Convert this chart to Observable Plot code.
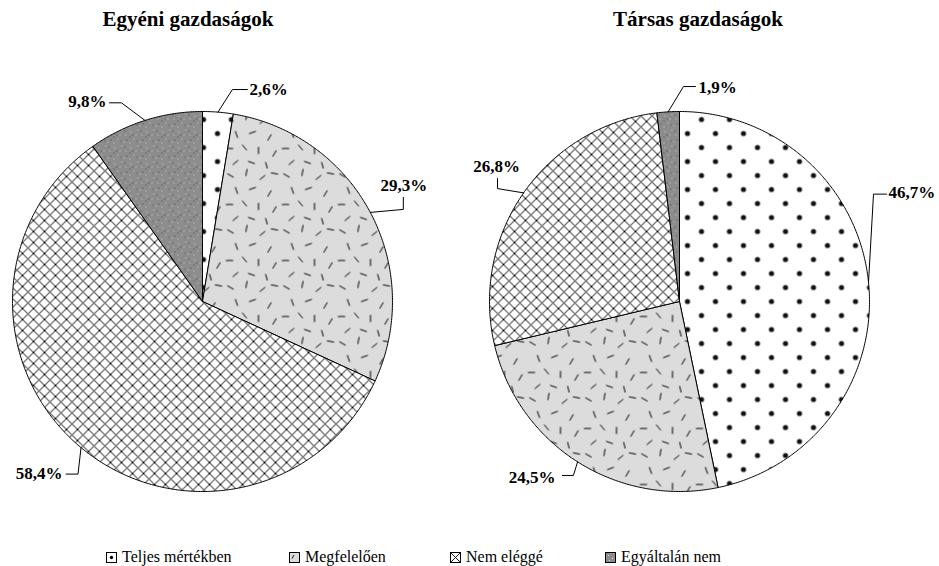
<!DOCTYPE html>
<html>
<head>
<meta charset="utf-8">
<script src="https://cdn.jsdelivr.net/npm/d3@7"></script>
<script src="https://cdn.jsdelivr.net/npm/@observablehq/plot@0.6"></script>
<style>
  body { margin: 0; background: #fff; color: #000; }
  #wrap { position: relative; width: 939px; height: 566px; overflow: hidden; }
  .title { position: absolute; top: 9px; font-weight: bold; font-size: 21px; line-height: 21px; white-space: nowrap; transform: translateX(-50%); }
  .pie { position: absolute; top: 0; }
  .lg { position: absolute; top: 549px; font-size: 16px; line-height: 16px; white-space: nowrap; }
  .sw { position: absolute; top: 552px; }
</style>
</head>
<body>
<svg width="0" height="0" style="position:absolute">
  <defs id="defs"></defs>
</svg>
<div id="wrap"></div>
<script>
// ---------- data ----------
const categories = ["Teljes mértékben", "Megfelelően", "Nem eléggé", "Egyáltalán nem"];
const groups = ["Egyéni gazdaságok", "Társas gazdaságok"];
const egyeniValues = [2.6, 29.3, 58.4, 9.8];
const tarsasValues = [46.7, 24.5, 26.8, 1.9];

// ---------- layout / style (leader elbows & label offsets in px from slice edge midpoint, y down) ----------
const egyeniLeaders = [
  { elbows: [[14.4, -22.6], [29.4, -22.6]], label: [31.4, -22.6], anchor: "start" },
  { elbows: [[33, -3], [33, -15]], label: [33.5, -27], anchor: "middle" },
  { elbows: [[-3, 26.5], [-15, 26.5]], label: [-18.5, 25.5], anchor: "end" },
  { elbows: [[-23.5, -17.6], [-35.5, -17.6]], label: [-38.5, -18.6], anchor: "end" }
];
const tarsasLeaders = [
  { elbows: [[5, -88], [18, -88]], label: [20, -89.5], anchor: "start" },
  { elbows: [[-4.2, 13.6], [-15.2, 13.6]], label: [-22.2, 15.6], anchor: "end" },
  { elbows: [[-26.1, -4.3], [-26.1, -14.3]], label: [-27.1, -26.3], anchor: "middle" },
  { elbows: [[15.3, -25.3], [27.3, -25.3]], label: [30.3, -23.8], anchor: "start" }
];

// pick an installed serif face (Times-like preferred)
function pickFont() {
  const cands = ["Liberation Serif", "Tinos", "Times New Roman", "Times", "Nimbus Roman", "Nimbus Roman No9 L",
                 "FreeSerif", "Noto Serif", "DejaVu Serif", "Bitstream Vera Serif"];
  const ctx = document.createElement("canvas").getContext("2d");
  const sample = "Egyéni gazdaságok mmmWWWiii 0123456789";
  const widthFor = f => { ctx.font = `bold 40px ${f}`; return ctx.measureText(sample).width; };
  const baseA = widthFor("monospace"), baseB = widthFor("sans-serif");
  for (const c of cands) {
    const a = widthFor(`"${c}", monospace`), b = widthFor(`"${c}", sans-serif`);
    if (a !== baseA || b !== baseB) return `"${c}", serif`;
  }
  return "serif";
}
const FONT = pickFont();
document.getElementById("wrap").style.fontFamily = FONT;

// ---------- patterns ----------
const defs = d3.select("#defs");
function pattern(id, w, h) {
  return defs.append("pattern").attr("id", id).attr("patternUnits", "userSpaceOnUse").attr("width", w).attr("height", h);
}
// dots
{
  const p = pattern("pat0", 28, 28);
  p.append("rect").attr("width", 28).attr("height", 28).attr("fill", "#fff");
  p.append("circle").attr("cx", 7).attr("cy", 7).attr("r", 2.6).attr("fill", "#111");
  p.append("circle").attr("cx", 21).attr("cy", 21).attr("r", 2.6).attr("fill", "#111");
}
// light gray with dashes
{
  const p = pattern("pat1", 56, 56);
  p.append("rect").attr("width", 56).attr("height", 56).attr("fill", "#dcdcdc");
  const dashes = [[6,7,30],[22,4,100],[38,9,-40],[50,5,10],[12,22,70],[28,20,-20],[45,25,120],
                  [5,36,0],[20,35,50],[34,38,90],[50,41,-60],[11,50,140],[27,50,20],[42,53,75]];
  dashes.forEach(([x, y, a]) => {
    const r = a * Math.PI / 180, c = Math.cos(r) * 3.6, s = Math.sin(r) * 3.6;
    p.append("line").attr("x1", x - c).attr("y1", y - s).attr("x2", x + c).attr("y2", y + s)
      .attr("stroke", "#000").attr("stroke-width", 1);
  });
}
// crosshatch
{
  const p = pattern("pat2", 11, 11);
  p.append("rect").attr("width", 11).attr("height", 11).attr("fill", "#fff");
  p.append("path").attr("d", "M0,0L11,11M11,0L0,11").attr("stroke", "#000").attr("stroke-width", 1);
}
// dark gray speckles
{
  const p = pattern("pat3", 16, 16);
  p.append("rect").attr("width", 16).attr("height", 16).attr("fill", "#8c8c8c");
  [[2,3],[9,1],[13,6],[5,10],[11,13],[1,14],[7,6]].forEach(([x, y]) =>
    p.append("rect").attr("x", x).attr("y", y).attr("width", 1).attr("height", 1).attr("fill", "#cfcfcf"));
  [[4,6],[12,2],[14,11],[8,12],[1,8]].forEach(([x, y]) =>
    p.append("rect").attr("x", x).attr("y", y).attr("width", 1).attr("height", 1).attr("fill", "#4a4a4a"));
}

// ---------- pie drawing ----------
const fmt = v => d3.format(".1f")(v).replace(".", ",") + "%";
function drawPie(values, leaders, width, marginLeft, marginRight) {
  const R = 190;
  const arcs = d3.pie().sort(null).value(d => d)(values);
  const marks = [];
  arcs.forEach((a, i) => {
    const pts = [{ x: 0, y: 0 }];
    const n = Math.max(2, Math.ceil((a.endAngle - a.startAngle) / (Math.PI / 360)));
    for (let k = 0; k <= n; k++) {
      const t = a.startAngle + (a.endAngle - a.startAngle) * k / n;
      pts.push({ x: Math.sin(t), y: Math.cos(t) });
    }
    pts.push({ x: 0, y: 0 });
    marks.push(Plot.line(pts, { x: "x", y: "y", fill: `url(#pat${i})`, stroke: "#000", strokeWidth: 1, strokeLinejoin: "round" }));
  });
  const leaderPts = [];
  const labelData = [];
  arcs.forEach((a, i) => {
    const m = (a.startAngle + a.endAngle) / 2;
    const ex = Math.sin(m), ey = Math.cos(m);
    const L = leaders[i];
    [[0, 0], ...L.elbows].forEach(([dx, dy]) => leaderPts.push({ i, x: ex + dx / R, y: ey - dy / R }));
    labelData.push({ x: ex + L.label[0] / R, y: ey - L.label[1] / R, text: fmt(values[i]), anchor: L.anchor });
  });
  marks.push(Plot.line(leaderPts, { x: "x", y: "y", z: "i", stroke: "#000", strokeWidth: 1 }));
  ["start", "middle", "end"].forEach(anc =>
    marks.push(Plot.text(labelData.filter(d => d.anchor === anc), {
      x: "x", y: "y", text: "text", textAnchor: anc, fontWeight: "bold", fontSize: 17,
      fontFamily: FONT, fill: "#000"
    })));
  return Plot.plot({
    width, height: 520, marginLeft, marginRight, marginTop: 111, marginBottom: 29,
    x: { domain: [-1, 1], axis: null }, y: { domain: [-1, 1], axis: null },
    style: { background: "transparent", fontFamily: FONT },
    marks
  });
}

const wrap = document.getElementById("wrap");
const left = drawPie(egyeniValues, egyeniLeaders, 470, 12, 78);
left.classList.add("pie"); left.style.left = "0px";
const right = drawPie(tarsasValues, tarsasLeaders, 469, 19, 70);
right.classList.add("pie"); right.style.left = "470px";
wrap.appendChild(left); wrap.appendChild(right);

// titles
[[groups[0], 188], [groups[1], 698]].forEach(([t, cx]) => {
  const d = document.createElement("div");
  d.className = "title"; d.textContent = t; d.style.left = cx + "px"; d.style.fontFamily = FONT;
  wrap.appendChild(d);
});

// legend
const legendX = [106, 289, 450, 605];
const swatchSVG = [
  '<rect x="0.5" y="0.5" width="10" height="10" fill="#fff" stroke="#000"/><circle cx="5.5" cy="5.5" r="1.7" fill="#000"/>',
  '<rect x="0.5" y="0.5" width="10" height="10" fill="#dcdcdc" stroke="#000"/><line x1="3" y1="6.5" x2="5" y2="3" stroke="#000" stroke-width="0.9"/>',
  '<rect x="0.5" y="0.5" width="10" height="10" fill="#fff" stroke="#000"/><path d="M0.5,0.5L10.5,10.5M10.5,0.5L0.5,10.5" stroke="#000" stroke-width="0.9"/>',
  '<rect x="0.5" y="0.5" width="10" height="10" fill="#8c8c8c" stroke="#000"/><rect x="3" y="3" width="1" height="1" fill="#ddd"/><rect x="7" y="6" width="1" height="1" fill="#ddd"/><rect x="4" y="8" width="1" height="1" fill="#ddd"/>'
];
categories.forEach((c, i) => {
  const s = document.createElement("div");
  s.className = "sw"; s.style.left = legendX[i] + "px";
  s.innerHTML = `<svg width="11" height="11" style="display:block">${swatchSVG[i]}</svg>`;
  wrap.appendChild(s);
  const t = document.createElement("div");
  t.className = "lg"; t.style.left = (legendX[i] + 16) + "px"; t.textContent = c; t.style.fontFamily = FONT;
  wrap.appendChild(t);
});
</script>
</body>
</html>
